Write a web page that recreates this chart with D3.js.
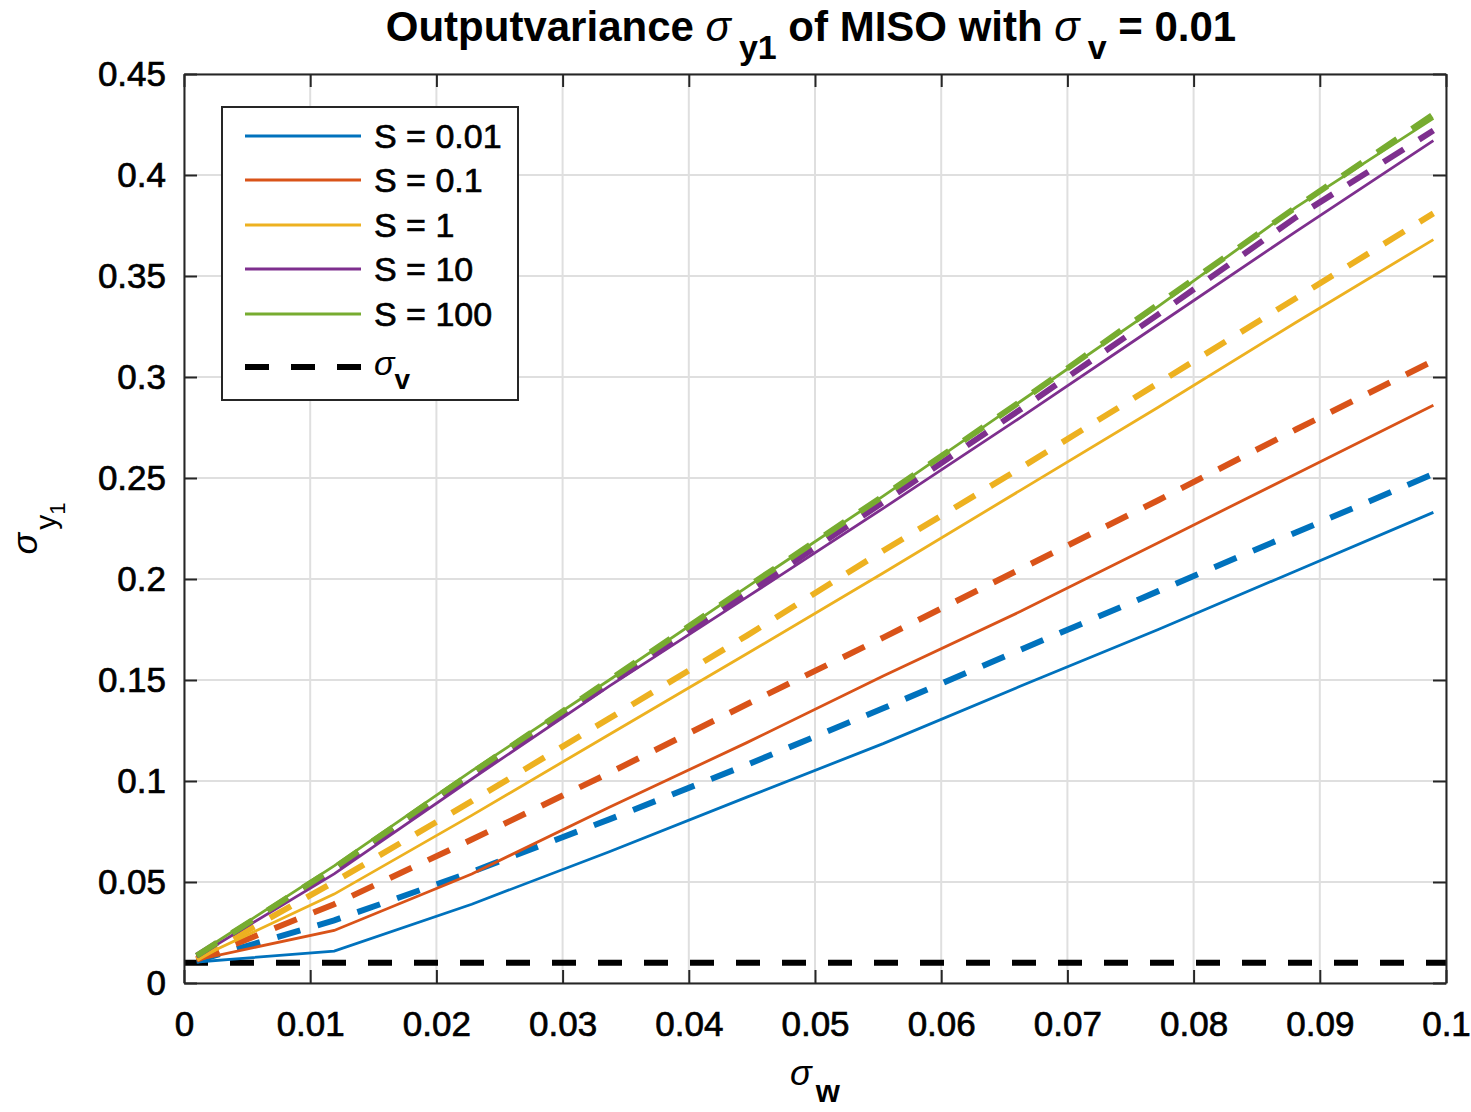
<!DOCTYPE html>
<html>
<head>
<meta charset="utf-8">
<script src="https://cdn.jsdelivr.net/npm/d3@7"></script>
<style>
  body { margin: 0; background: #fff; }
  svg text { font-family: "Liberation Sans", Arial, Helvetica, sans-serif; fill: #000; }
</style>
</head>
<body>
<svg id="chart" width="1471" height="1112"></svg>
<script>
// sigma_w sample points
const sigmaW = [0.001, 0.0119, 0.0228, 0.0337, 0.0446, 0.0554, 0.0663, 0.0772, 0.0881, 0.099];

// output variance, simulated (solid lines)
const simS001 = [0.0104, 0.0158, 0.039, 0.065, 0.092, 0.1185, 0.147, 0.175, 0.204, 0.233];
const simS01  = [0.0115, 0.026, 0.054, 0.087, 0.119, 0.152, 0.184, 0.218, 0.252, 0.286];
const simS1   = [0.012, 0.044, 0.083, 0.123, 0.163, 0.203, 0.244, 0.285, 0.327, 0.368];
const simS10  = [0.013, 0.054, 0.101, 0.147, 0.191, 0.235, 0.280, 0.326, 0.372, 0.417];
const simS100 = [0.014, 0.058, 0.105, 0.150, 0.196, 0.241, 0.288, 0.335, 0.384, 0.428];

// output variance, predicted (dashed lines)
const predS001 = [0.011, 0.031, 0.055, 0.081, 0.108, 0.136, 0.165, 0.194, 0.223, 0.252];
const predS01  = [0.0115, 0.039, 0.071, 0.104, 0.138, 0.171, 0.205, 0.239, 0.274, 0.308];
const predS1   = [0.012, 0.050, 0.090, 0.131, 0.172, 0.214, 0.255, 0.297, 0.339, 0.381];
const predS10  = [0.0135, 0.056, 0.103, 0.148, 0.193, 0.238, 0.284, 0.331, 0.379, 0.422];
const predS100 = [0.0135, 0.057, 0.104, 0.150, 0.196, 0.241, 0.288, 0.336, 0.384, 0.430];

const sigmaV = 0.01;
const sigmaVx = [0, 0.1];

const seriesNames = ["S = 0.01", "S = 0.1", "S = 1", "S = 10", "S = 100"];
const colors = ["#0072BD", "#D95319", "#EDB120", "#7E2F8E", "#77AC30"];
const simData = [simS001, simS01, simS1, simS10, simS100];
const predData = [predS001, predS01, predS1, predS10, predS100];

const xTicks = [0, 0.01, 0.02, 0.03, 0.04, 0.05, 0.06, 0.07, 0.08, 0.09, 0.1];
const xTickLabels = ["0", "0.01", "0.02", "0.03", "0.04", "0.05", "0.06", "0.07", "0.08", "0.09", "0.1"];
const yTicks = [0, 0.05, 0.1, 0.15, 0.2, 0.25, 0.3, 0.35, 0.4, 0.45];
const yTickLabels = ["0", "0.05", "0.1", "0.15", "0.2", "0.25", "0.3", "0.35", "0.4", "0.45"];

const svg = d3.select("#chart");
const margin = { top: 74, right: 25, bottom: 129, left: 184 };
const width = 1471 - margin.left - margin.right;
const height = 1112 - margin.top - margin.bottom;
const axisColor = "#262626";

const g = svg.append("g").attr("transform", `translate(${margin.left},${margin.top})`);

const x = d3.scaleLinear().domain([0, 0.1]).range([0, width]);
const y = d3.scaleLinear().domain([0, 0.45]).range([height, 0]);

// grid
g.append("g").selectAll("line").data(xTicks).join("line")
    .attr("x1", d => x(d)).attr("x2", d => x(d))
    .attr("y1", 0).attr("y2", height)
    .attr("stroke", "#dfdfdf").attr("stroke-width", 2);
g.append("g").selectAll("line").data(yTicks).join("line")
    .attr("x1", 0).attr("x2", width)
    .attr("y1", d => y(d)).attr("y2", d => y(d))
    .attr("stroke", "#dfdfdf").attr("stroke-width", 2);

const line = d3.line().x((d, i) => x(sigmaW[i])).y(d => y(d));

// sigma_v reference
g.append("path")
    .datum(sigmaVx)
    .attr("d", d3.line().x(d => x(d)).y(() => y(sigmaV)))
    .attr("fill", "none").attr("stroke", "#000")
    .attr("stroke-width", 6).attr("stroke-dasharray", "24 22");

simData.forEach((s, k) => {
    g.append("path").datum(s).attr("d", line)
        .attr("fill", "none").attr("stroke", colors[k]).attr("stroke-width", 2.8);
    g.append("path").datum(predData[k]).attr("d", line)
        .attr("fill", "none").attr("stroke", colors[k])
        .attr("stroke-width", 6).attr("stroke-dasharray", "24 18");
});

// axes (box with inward ticks)
function styleAxis(sel) {
    sel.select(".domain").attr("stroke", axisColor).attr("stroke-width", 2);
    sel.selectAll(".tick line").attr("stroke", axisColor).attr("stroke-width", 2);
    sel.selectAll("text").attr("font-size", 35).attr("fill", "#000")
        .attr("stroke", "#000").attr("stroke-width", 0.7);
}
g.append("g").attr("transform", `translate(0,${height})`)
    .call(d3.axisBottom(x).tickValues(xTicks).tickFormat((d, i) => xTickLabels[i])
        .tickSizeInner(-13).tickSizeOuter(0).tickPadding(28))
    .call(styleAxis);
g.append("g")
    .call(d3.axisLeft(y).tickValues(yTicks).tickFormat((d, i) => yTickLabels[i])
        .tickSizeInner(-13).tickSizeOuter(0).tickPadding(18))
    .call(styleAxis);
g.append("g")
    .call(d3.axisTop(x).tickValues(xTicks).tickFormat("").tickSizeInner(-13).tickSizeOuter(0))
    .call(styleAxis);
g.append("g").attr("transform", `translate(${width},0)`)
    .call(d3.axisRight(y).tickValues(yTicks).tickFormat("").tickSizeInner(-13).tickSizeOuter(0))
    .call(styleAxis);

// legend
const legend = g.append("g").attr("transform", "translate(38,33)");
legend.append("rect").attr("width", 296).attr("height", 293)
    .attr("fill", "#fff").attr("stroke", axisColor).attr("stroke-width", 2);
const rowY = [29, 73, 118, 162, 207];
seriesNames.forEach((name, k) => {
    legend.append("line").attr("x1", 23).attr("x2", 139)
        .attr("y1", rowY[k]).attr("y2", rowY[k])
        .attr("stroke", colors[k]).attr("stroke-width", 2.8);
    legend.append("text").attr("x", 152).attr("y", rowY[k] + 12)
        .attr("font-size", 34).attr("stroke", "#000").attr("stroke-width", 0.7).text(name);
});
legend.append("line").attr("x1", 23).attr("x2", 139).attr("y1", 260).attr("y2", 260)
    .attr("stroke", "#000").attr("stroke-width", 6).attr("stroke-dasharray", "24 22");
const lv = legend.append("text").attr("x", 152).attr("y", 268).attr("font-size", 34);
lv.append("tspan").attr("font-style", "italic").text("σ");
lv.append("tspan").attr("dy", 14).attr("font-size", 28).attr("font-weight", "bold").text("v");

// title
const title = svg.append("text").attr("x", margin.left + width / 2 - 4).attr("y", 41)
    .attr("text-anchor", "middle").attr("font-size", 42).attr("font-weight", "bold");
title.append("tspan").text("Outputvariance ");
title.append("tspan").attr("font-style", "italic").attr("font-weight", "normal").text("σ");
title.append("tspan").attr("dy", 18).attr("dx", 8).attr("font-size", 34).text("y1");
title.append("tspan").attr("dy", -18).text(" of MISO with ");
title.append("tspan").attr("font-style", "italic").attr("font-weight", "normal").text("σ");
title.append("tspan").attr("dy", 18).attr("dx", 8).attr("font-size", 34).text("v");
title.append("tspan").attr("dy", -18).text(" = 0.01");

// x label
const xl = svg.append("text").attr("x", margin.left + width / 2).attr("y", 1085)
    .attr("text-anchor", "middle").attr("font-size", 36);
xl.append("tspan").attr("font-style", "italic").text("σ");
xl.append("tspan").attr("dy", 17).attr("dx", 4).attr("font-size", 31).attr("font-weight", "bold").text("w");

// y label
const yl = svg.append("text").attr("transform", `translate(37,${margin.top + height / 2}) rotate(-90)`)
    .attr("text-anchor", "middle").attr("font-size", 36);
yl.append("tspan").attr("font-style", "italic").text("σ");
yl.append("tspan").attr("dy", 19).attr("dx", 3).attr("font-size", 30).text("y");
yl.append("tspan").attr("dy", 9).attr("font-size", 22).text("1");
</script>
</body>
</html>
